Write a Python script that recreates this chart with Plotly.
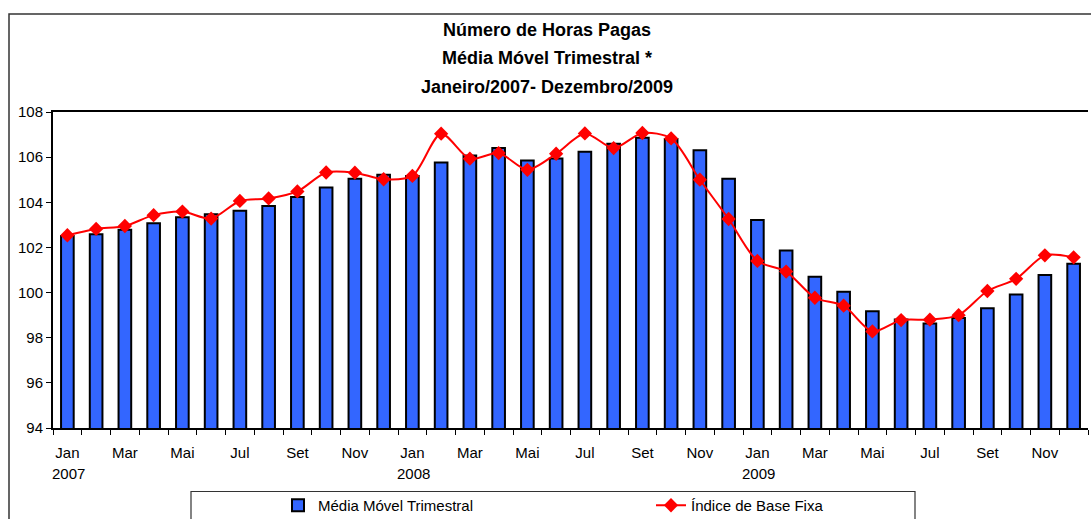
import plotly.graph_objects as go

# ---------------- data ----------------
months = ["Jan", "Fev", "Mar", "Abr", "Mai", "Jun", "Jul", "Ago", "Set", "Out", "Nov", "Dez"]
years = ["2007", "2008", "2009"]

media_movel = [
    102.51, 102.58, 102.78, 103.07, 103.34, 103.47, 103.63, 103.84, 104.23, 104.65, 105.04, 105.22,
    105.17, 105.76, 106.07, 106.40, 105.85, 105.94, 106.24, 106.59, 106.86, 106.80, 106.31, 105.04,
    103.22, 101.86, 100.70, 100.04, 99.17, 98.81, 98.63, 98.87, 99.30, 99.91, 100.78, 101.28,
]
indice_base_fixa = [
    102.54, 102.82, 102.95, 103.43, 103.59, 103.28, 104.06, 104.17, 104.48, 105.32, 105.31, 105.02,
    105.17, 107.04, 105.93, 106.18, 105.44, 106.15, 107.05, 106.40, 107.07, 106.83, 105.00, 103.26,
    101.40, 100.93, 99.77, 99.42, 98.28, 98.78, 98.80, 99.00, 100.07, 100.61, 101.65, 101.56,
]
y_ticks = [94, 96, 98, 100, 102, 104, 106, 108]

title_lines = ["Número de Horas Pagas", "Média Móvel Trimestral *", "Janeiro/2007- Dezembro/2009"]
series_names = ["Média Móvel Trimestral", "Índice de Base Fixa"]

# ---------------- layout helpers ----------------
W, H = 1091, 519
ML, MR, MT, MB = 53, 3, 112, 91
PW, PH = W - ML - MR, H - MT - MB
FONT = "Liberation Sans, Arial, sans-serif"


def px_x(p):
    return (p - ML) / PW


def px_y(p):
    return (H - MB - p) / PH


n = len(media_movel)
x = list(range(n))
cat_months = [m for _ in years for m in months]
cat_years = [y for y in years for _ in months]
tick_pos = [i for i in x if i % 2 == 0]
tick_txt = [cat_months[i] for i in tick_pos]

fig = go.Figure()
fig.add_trace(go.Bar(
    x=x, y=media_movel, name=series_names[0], width=0.44,
    marker=dict(color="#3366FF", line=dict(color="black", width=2)),
))
fig.add_trace(go.Scatter(
    x=x, y=indice_base_fixa, name=series_names[1], mode="lines+markers",
    line=dict(color="#FF0000", width=2, shape="spline", smoothing=0.8),
    marker=dict(symbol="diamond", size=11, color="#FF0000"),
))

annotations = []
for yy, txt in zip([30, 58, 87], title_lines):
    annotations.append(dict(
        text="<b>" + txt + "</b>", xref="paper", yref="paper", x=px_x(W / 2 + 1), y=px_y(yy),
        xanchor="center", yanchor="middle", showarrow=False,
        font=dict(family=FONT, size=18, color="black"),
    ))
for i in x:
    if cat_months[i] == months[0]:
        annotations.append(dict(
            text=cat_years[i], xref="x", yref="paper", x=i + 0.05, y=px_y(474),
            xanchor="center", yanchor="middle", showarrow=False,
            font=dict(family=FONT, size=15, color="black"),
        ))

shapes = [
    dict(type="rect", xref="paper", yref="paper", x0=px_x(9), x1=px_x(W + 20), y0=px_y(14), y1=px_y(H + 20),
         line=dict(color="#333333", width=1.5), layer="below"),
    dict(type="rect", xref="paper", yref="paper", x0=px_x(191), x1=px_x(915), y0=px_y(491.5), y1=px_y(H + 20),
         line=dict(color="#333333", width=1.2), layer="below"),
]

fig.update_layout(
    width=W, height=H,
    margin=dict(l=ML, r=MR, t=MT, b=MB, autoexpand=False),
    paper_bgcolor="white", plot_bgcolor="white",
    font=dict(family=FONT, size=15, color="black"),
    showlegend=True,
    legend=dict(
        orientation="h", x=px_x(278), y=px_y(489), xanchor="left", yanchor="top",
        entrywidth=328, entrywidthmode="pixels", bgcolor="rgba(0,0,0,0)", borderwidth=0,
        font=dict(family=FONT, size=15, color="black"), traceorder="normal",
    ),
    bargap=0.5,
    annotations=annotations,
    shapes=shapes,
)
fig.update_xaxes(
    range=[-0.5, n - 0.5], tickmode="array", tickvals=tick_pos, ticktext=tick_txt,
    ticks="", ticklabelstandoff=10, showgrid=False, zeroline=False,
    showline=True, linecolor="black", linewidth=2, mirror=True,
    minor=dict(tickmode="array", tickvals=[i - 0.5 for i in range(n + 1)], ticks="outside",
               ticklen=5, tickcolor="black", tickwidth=1, showgrid=False),
    tickfont=dict(family=FONT, size=15, color="black"),
)
fig.update_yaxes(
    range=[94, 108], tickmode="array", tickvals=y_ticks, ticks="outside", ticklen=5,
    tickcolor="black", showgrid=False, zeroline=False,
    showline=True, linecolor="black", linewidth=2,
    tickfont=dict(family=FONT, size=15, color="black"),
)

fig.write_html(
    "out.html",
    config={"displayModeBar": False},
    post_script="document.body.style.margin='0px';document.body.style.overflow='hidden';",
)
